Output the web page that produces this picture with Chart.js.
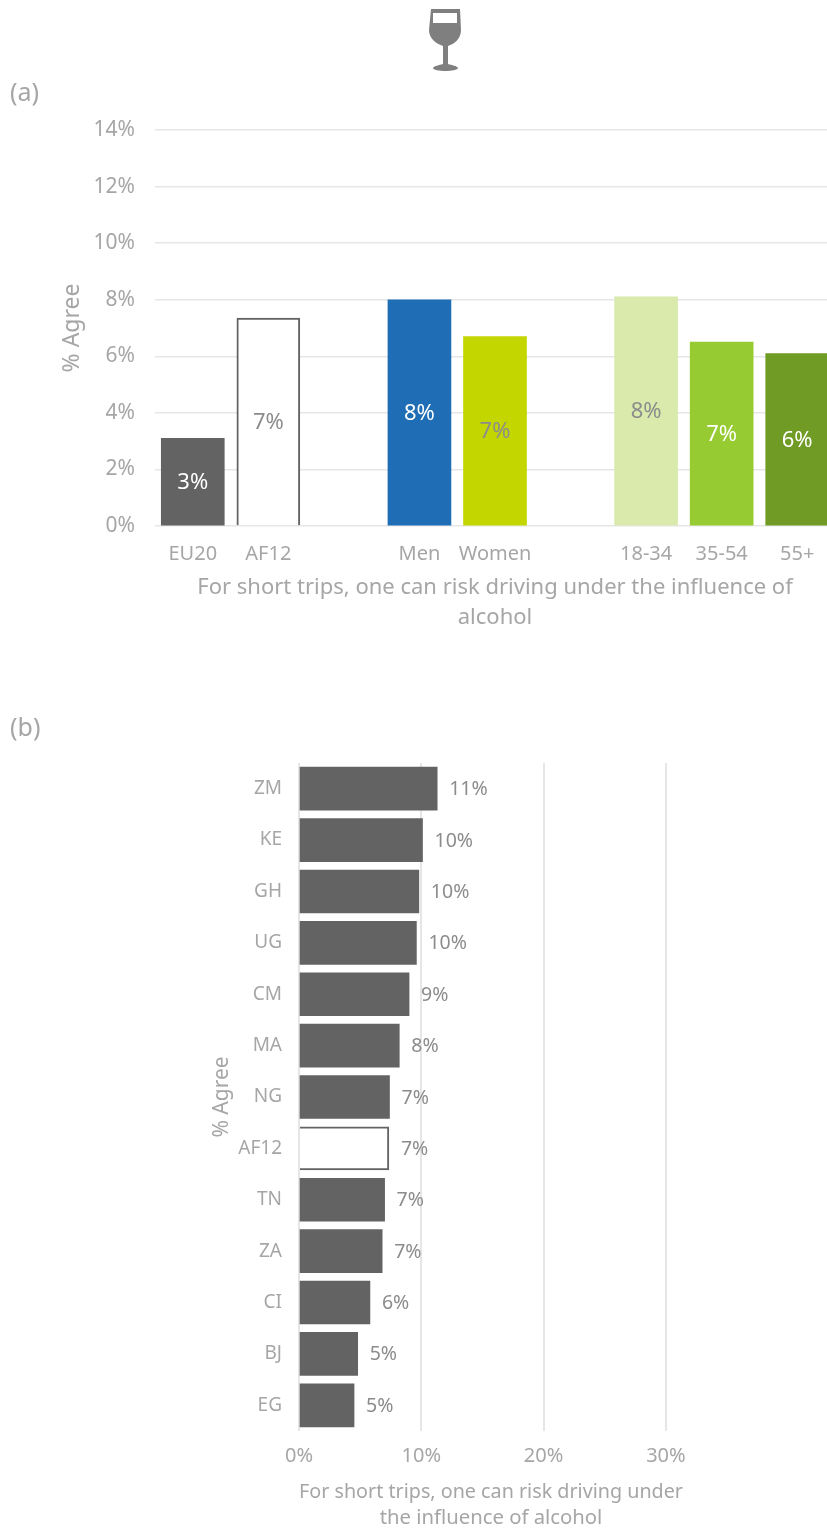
<!DOCTYPE html>
<html>
<head>
<meta charset="utf-8">
<script src="https://cdn.jsdelivr.net/npm/chart.js@4"></script>
<style>
    html, body { margin: 0; padding: 0; background: #fff; overflow: hidden; width: 827px; height: 1531px; }
    body { position: relative; font-family: "Noto Sans", sans-serif; color: #a6a6a6; }
    canvas { position: absolute; left: 0; }
    #chart-a { top: 0; }
    #chart-b { top: 700px; }
    .panel { position: absolute; left: 10px; font-size: 25px; line-height: 26px; }
    #icon { position: absolute; left: 425px; top: 6px; }
</style>
</head>
<body>
<canvas id="chart-a"></canvas>
<canvas id="chart-b"></canvas>
<svg id="icon" width="42" height="68" viewBox="0 0 42 68">
    <path fill="#7f7f7f" d="M6 3H35L36 24C36 33 29 38 23 40L23 58C27 59 32 60 33 62C33 64 26 65 21 65C14 65 8 64 8 62C9 60 14 59 18 58L18 40C12 38 4 33 4 24Z"/>
    <rect x="8" y="7" width="24" height="10" fill="#fff"/>
</svg>
<div class="panel" style="top:78px">(a)</div>
<div class="panel" style="top:713px">(b)</div>
<script>
const categoriesA = ['EU20', 'AF12', '', 'Men', 'Women', '', '18-34', '35-54', '55+'];
const valuesA = [3.1, 7.35, null, 8.0, 6.7, null, 8.1, 6.5, 6.1];
const colorsA = ['#636363', '#ffffff', null, '#1f6db5', '#c4d600', null, '#d9eaac', '#97cb32', '#709b25'];
const labelColorsA = ['#ffffff', '#8c8c8c', null, '#ffffff', '#8c8c8c', null, '#8c8c8c', '#ffffff', '#ffffff'];

const categoriesB = ['ZM', 'KE', 'GH', 'UG', 'CM', 'MA', 'NG', 'AF12', 'TN', 'ZA', 'CI', 'BJ', 'EG'];
const valuesB = [11.3, 10.1, 9.8, 9.6, 9.0, 8.2, 7.4, 7.35, 7.0, 6.8, 5.8, 4.8, 4.5];
const highlight = 'AF12';

const titleA = ['For short trips, one can risk driving under the influence of', 'alcohol'];
const titleB = ['For short trips, one can risk driving under', 'the influence of alcohol'];
const yTitle = '% Agree';

const FONT = '"Noto Sans", sans-serif';
const GREY = '#a6a6a6';
const GRID = '#e6e6e6';
const DARK = '#636363';

// Etiquettes de valeur (arrondies) sur les barres
const valueLabels = {
    id: 'valueLabels',
    afterDatasetsDraw(chart, args, opts) {
        const ctx = chart.ctx;
        const meta = chart.getDatasetMeta(0);
        const data = chart.data.datasets[0].data;
        ctx.save();
        ctx.font = opts.size + 'px ' + FONT;
        ctx.textBaseline = 'middle';
        meta.data.forEach((bar, i) => {
            if (data[i] === null) return;
            const text = Math.round(data[i]) + '%';
            if (opts.inside) {
                ctx.textAlign = 'center';
                ctx.fillStyle = opts.colors[i];
                ctx.fillText(text, bar.x, (bar.y + bar.base) / 2 + 1);
            } else {
                ctx.textAlign = 'left';
                ctx.fillStyle = '#8c8c8c';
                ctx.fillText(text, bar.x + 12, bar.y + 1);
            }
        });
        ctx.restore();
    }
};

// Graphique (a)
const canvasA = document.getElementById('chart-a');
canvasA.width = 840;
canvasA.height = 640;
new Chart(canvasA, {
    type: 'bar',
    data: {
        labels: categoriesA,
        datasets: [{
            data: valuesA,
            backgroundColor: colorsA,
            borderColor: DARK,
            borderWidth: categoriesA.map(c => c === highlight ? 2 : 0),
            barThickness: 63
        }]
    },
    options: {
        responsive: false,
        animation: false,
        layout: { padding: { left: 59, top: 130, right: 5, bottom: 0 } },
        plugins: {
            legend: { display: false },
            tooltip: { enabled: false },
            valueLabels: { inside: true, colors: labelColorsA, size: 22 }
        },
        scales: {
            x: {
                grid: { display: false },
                border: { display: false },
                ticks: { color: GREY, font: { family: FONT, size: 20 }, padding: 8, maxRotation: 0, autoSkip: false },
                title: { display: true, text: titleA, color: GREY, font: { family: FONT, size: 22, lineHeight: 1.36 }, padding: { top: 0, bottom: 7 } },
                afterFit(scale) { scale.height = 114; }
            },
            y: {
                min: 0,
                max: 14,
                grid: { color: GRID, lineWidth: 1.5, drawTicks: false },
                border: { display: false },
                ticks: { stepSize: 2, color: GREY, font: { family: FONT, size: 21 }, padding: 20, callback: v => v + '%' },
                title: { display: true, text: yTitle, color: GREY, font: { family: FONT, size: 23 }, padding: 0 },
                afterFit(scale) { scale.width = 96; }
            }
        }
    },
    plugins: [valueLabels]
});

// Graphique (b)
const canvasB = document.getElementById('chart-b');
canvasB.width = 827;
canvasB.height = 831;
new Chart(canvasB, {
    type: 'bar',
    data: {
        labels: categoriesB,
        datasets: [{
            data: valuesB,
            backgroundColor: categoriesB.map(c => c === highlight ? '#ffffff' : DARK),
            borderColor: DARK,
            borderWidth: categoriesB.map(c => c === highlight ? 2 : 0),
            barThickness: 43
        }]
    },
    options: {
        responsive: false,
        animation: false,
        indexAxis: 'y',
        layout: { padding: { left: 209, top: 63, right: 144, bottom: 0 } },
        plugins: {
            legend: { display: false },
            tooltip: { enabled: false },
            valueLabels: { inside: false, size: 19.5 }
        },
        scales: {
            x: {
                min: 0,
                max: 31.4,
                grid: { color: GRID, lineWidth: 2, drawTicks: false },
                border: { display: false },
                ticks: { stepSize: 10, includeBounds: false, color: GREY, font: { family: FONT, size: 20 }, padding: 13, maxRotation: 0, callback: v => v + '%' },
                title: { display: true, text: titleB, color: GREY, font: { family: FONT, size: 20.3, lineHeight: 1.28 }, padding: { top: 0, bottom: 0 } },
                afterFit(scale) { scale.height = 100; }
            },
            y: {
                grid: { display: false },
                border: { display: false },
                ticks: { color: GREY, font: { family: FONT, size: 19 }, padding: 9, autoSkip: false },
                title: { display: true, text: yTitle, color: GREY, font: { family: FONT, size: 21 }, padding: 0 },
                afterFit(scale) { scale.width = 90; }
            }
        }
    },
    plugins: [valueLabels]
});
</script>
</body>
</html>
